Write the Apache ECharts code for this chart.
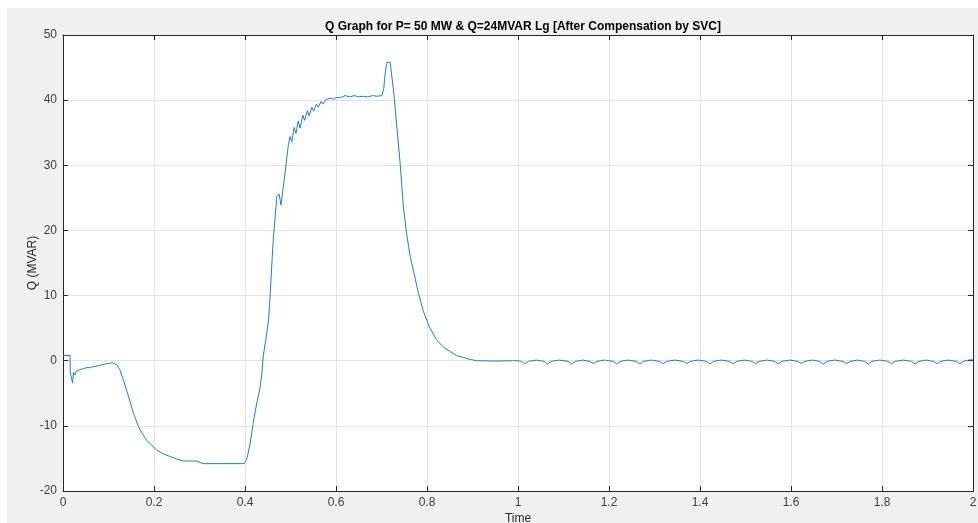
<!DOCTYPE html>
<html>
<head>
<meta charset="UTF-8">
<title>Q Graph</title>
<script src="https://cdn.jsdelivr.net/npm/echarts@6/dist/echarts.min.js"></script>
<style>
  html, body { margin: 0; padding: 0; background: #fff; }
  #main { width: 978px; height: 523px; }
</style>
</head>
<body>
<div id="main"></div>
<script>
// axis ticks
var xTicks = [0, 0.2, 0.4, 0.6, 0.8, 1, 1.2, 1.4, 1.6, 1.8, 2];
var yTicks = [-20, -10, 0, 10, 20, 30, 40, 50];

// [time, Q], one array per phase
var startPhase = [
  [0, 0.8], [0.0154, 0.8], [0.0158, -1.7], [0.019, -2.0], [0.021, -3.4],
  [0.023, -1.8], [0.026, -2.2], [0.029, -1.6], [0.033, -1.9], [0.037, -1.4],
  [0.041, -1.6], [0.046, -1.2], [0.05, -1.3], [0.055, -1.0], [0.06, -1.1],
  [0.066, -0.9], [0.072, -0.9], [0.08, -0.7], [0.088, -0.6], [0.095, -0.45],
  [0.102, -0.4], [0.107, -0.3], [0.112, -0.4]
];
var dipPhase = [
  [0.118, -0.6], [0.125, -1.4], [0.133, -3.0], [0.144, -5.5], [0.155, -8.1],
  [0.166, -10.1], [0.175, -11.3], [0.184, -12.2], [0.195, -13.0], [0.206, -13.7],
  [0.22, -14.3], [0.235, -14.7], [0.25, -15.1], [0.264, -15.4], [0.28, -15.4],
  [0.294, -15.4], [0.308, -15.8], [0.35, -15.8], [0.399, -15.8]
];
var risePhase = [
  [0.405, -14.8], [0.411, -12.8], [0.418, -9.6], [0.425, -6.8], [0.433, -4.2],
  [0.437, -2.0], [0.44, 0.6], [0.448, 4.3], [0.452, 6.5], [0.455, 9.8],
  [0.462, 18.5], [0.47, 25.2], [0.475, 25.6], [0.479, 23.9], [0.481, 23.7],
  [0.488, 28.8], [0.495, 33.0], [0.499, 34.4], [0.503, 33.6], [0.508, 35.8],
  [0.512, 34.9], [0.517, 36.8], [0.521, 35.7], [0.527, 37.7], [0.531, 36.9],
  [0.537, 38.4], [0.541, 37.6], [0.547, 38.9], [0.551, 38.3], [0.557, 39.4],
  [0.561, 38.9], [0.567, 39.8], [0.571, 39.4], [0.578, 40.1], [0.582, 39.8],
  [0.59, 40.3], [0.595, 40.1], [0.6, 40.4], [0.61, 40.4], [0.62, 40.7],
  [0.63, 40.5], [0.64, 40.7], [0.65, 40.5], [0.66, 40.6], [0.67, 40.5],
  [0.68, 40.7], [0.69, 40.6], [0.701, 40.7]
];
var peakPhase = [
  [0.705, 41.8], [0.708, 44.1], [0.712, 45.8], [0.715, 45.9], [0.719, 45.8],
  [0.722, 45.6], [0.727, 41.1], [0.733, 36.5], [0.741, 30.3], [0.748, 23.7],
  [0.755, 19.6], [0.763, 16.0], [0.77, 13.9], [0.781, 10.4], [0.792, 7.6],
  [0.805, 5.2], [0.821, 3.2], [0.836, 2.1], [0.851, 1.4], [0.865, 0.8],
  [0.88, 0.5], [0.895, 0.2], [0.909, 0], [0.95, -0.05], [0.99, 0]
];
var ripplePhase = [
  [1.0, 0], [1.007, -0.1], [1.015, -0.45], [1.023, -0.1], [1.04, 0.1],
  [1.057, -0.1], [1.065, -0.5], [1.073, -0.1], [1.09, 0.1],
  [1.11, -0.1], [1.118, -0.5], [1.126, -0.1], [1.142, 0.1],
  [1.158, -0.1], [1.166, -0.45], [1.174, -0.1], [1.19, 0.1],
  [1.209, -0.1], [1.217, -0.5], [1.225, -0.1], [1.242, 0.1],
  [1.26, -0.1], [1.268, -0.5], [1.276, -0.1], [1.293, 0.1],
  [1.311, -0.1], [1.319, -0.45], [1.327, -0.1], [1.345, 0.1],
  [1.363, -0.1], [1.371, -0.45], [1.379, -0.1], [1.396, 0.1],
  [1.414, -0.1], [1.422, -0.5], [1.43, -0.1], [1.447, 0.1],
  [1.465, -0.1], [1.473, -0.45], [1.481, -0.1], [1.497, 0.1],
  [1.514, -0.1], [1.522, -0.45], [1.53, -0.1], [1.547, 0.1],
  [1.564, -0.1], [1.572, -0.5], [1.58, -0.1], [1.597, 0.1],
  [1.615, -0.1], [1.623, -0.45], [1.631, -0.1], [1.647, 0.1],
  [1.663, -0.1], [1.671, -0.55], [1.679, -0.1], [1.696, 0.1],
  [1.714, -0.1], [1.722, -0.45], [1.73, -0.1], [1.746, 0.1],
  [1.762, -0.1], [1.77, -0.55], [1.778, -0.1], [1.795, 0.1],
  [1.813, -0.1], [1.821, -0.45], [1.829, -0.1], [1.847, 0.1],
  [1.865, -0.1], [1.873, -0.5], [1.881, -0.1], [1.897, 0.1],
  [1.913, -0.1], [1.921, -0.45], [1.929, -0.1], [1.946, 0.1],
  [1.963, -0.1], [1.971, -0.45], [1.979, -0.1], [1.99, 0.1], [2.0, 0.15]
];

var qData = startPhase.concat(dipPhase, risePhase, peakPhase, ripplePhase);

var myChart = echarts.init(document.getElementById('main'), null, { renderer: 'canvas' });

var axisCol = '#262626';
var gridCol = '#e3e3e3';
var labelCol = '#404040';
var fontFam = '"Liberation Sans", Arial, sans-serif';

function boxAxis(pos, ticks) {
  // top / right sides of the box, ticks only
  return {
    type: 'value',
    position: pos,
    min: ticks[0],
    max: ticks[ticks.length - 1],
    interval: ticks[1] - ticks[0],
    axisLine: { show: true, onZero: false, lineStyle: { color: axisCol, width: 1 } },
    axisTick: { show: true, inside: true, length: 5, lineStyle: { color: axisCol } },
    axisLabel: { show: false },
    splitLine: { show: false }
  };
}

var option = {
  backgroundColor: '#fff',
  animation: false,
  graphic: [{
    type: 'rect',
    z: -10,
    silent: true,
    shape: { x: 7, y: 8, width: 978, height: 523 },
    style: { fill: '#f0f0f0' }
  }],
  title: {
    text: 'Q Graph for P= 50 MW & Q=24MVAR Lg [After Compensation by SVC]',
    left: 518,
    textAlign: 'center',
    top: 16,
    textStyle: { fontFamily: fontFam, fontSize: 12, fontWeight: 'bold', color: '#000' }
  },
  grid: {
    left: 63,
    right: 5,
    top: 35,
    bottom: 32,
    outerBoundsMode: 'none',
    containLabel: false,
    show: true,
    backgroundColor: '#fff',
    borderWidth: 0
  },
  xAxis: [{
    type: 'value',
    position: 'bottom',
    min: xTicks[0],
    max: xTicks[xTicks.length - 1],
    interval: xTicks[1] - xTicks[0],
    name: 'Time',
    nameLocation: 'middle',
    nameGap: 22,
    nameMoveOverlap: false,
    nameTextStyle: { fontFamily: fontFam, fontSize: 12, color: axisCol },
    axisLine: { show: true, onZero: false, lineStyle: { color: axisCol, width: 1 } },
    axisTick: { show: true, inside: true, length: 5, lineStyle: { color: axisCol } },
    axisLabel: { fontFamily: fontFam, fontSize: 12, color: labelCol, margin: 6 },
    splitLine: { show: true, lineStyle: { color: gridCol, width: 1 } }
  }, boxAxis('top', xTicks)],
  yAxis: [{
    type: 'value',
    position: 'left',
    min: yTicks[0],
    max: yTicks[yTicks.length - 1],
    interval: yTicks[1] - yTicks[0],
    name: 'Q (MVAR)',
    nameLocation: 'middle',
    nameGap: 24,
    nameRotate: 90,
    nameMoveOverlap: false,
    nameTextStyle: { fontFamily: fontFam, fontSize: 12, color: axisCol },
    axisLine: { show: true, onZero: false, lineStyle: { color: axisCol, width: 1 } },
    axisTick: { show: true, inside: true, length: 5, lineStyle: { color: axisCol } },
    axisLabel: { fontFamily: fontFam, fontSize: 12, color: labelCol, margin: 6 },
    splitLine: { show: true, lineStyle: { color: gridCol, width: 1 } }
  }, boxAxis('right', yTicks)],
  series: [{
    name: 'Q',
    type: 'line',
    xAxisIndex: 0,
    yAxisIndex: 0,
    data: qData,
    showSymbol: false,
    smooth: false,
    lineStyle: { color: '#1f7dc8', width: 1 },
    clip: true
  }]
};

myChart.setOption(option);
</script>
</body>
</html>
